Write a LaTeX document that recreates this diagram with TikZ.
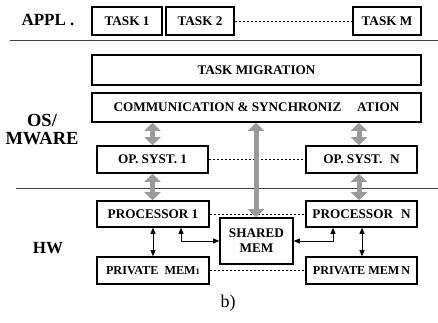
\documentclass[tikz,border=0pt]{standalone}
\usepackage{fontspec}
\setmainfont{Liberation Serif}
\usetikzlibrary{arrows.meta}
\definecolor{arrgray}{HTML}{9A9A9A}
\begin{document}
\begin{tikzpicture}[x=1pt,y=-1pt,
  box/.style={draw,line width=1.6pt,inner sep=0pt,font=\fontsize{13.2}{15}\selectfont\bfseries},
  smallbox/.style={box,font=\fontsize{12.2}{14}\selectfont\bfseries},
  lbl/.style={inner sep=0pt,font=\fontsize{17}{19}\selectfont\bfseries},
  sep/.style={line width=0.7pt,black!75},
  dots/.style={line width=0.6pt,dash pattern=on 2pt off 2pt},
  fatarrow/.style={arrgray,line width=5pt,{Triangle[width=16pt,length=8pt]}-{Triangle[width=16pt,length=8pt]}},
  thinarrow/.style={line width=0.8pt,{Triangle[width=5pt,length=6pt]}-{Triangle[width=5pt,length=6pt]}}]
\useasboundingbox (0,0) rectangle (438,323);
% application layer
\node[lbl] (appl) at (48,20) {APPL .};
\node[box,minimum width=70pt,minimum height=28pt] (t1) at (127,21) {TASK 1};
\node[box,minimum width=68pt,minimum height=28pt] (t2) at (200,21) {TASK 2};
\node[box,minimum width=68pt,minimum height=28pt] (tm) at (387,21) {TASK M};
\draw[dots] (t2.east) -- (tm.west);
\coordinate (s1a) at (10,40); \coordinate (s1b) at (438,40);
\draw[sep] (s1a) -- (s1b);
% OS / middleware
\node[lbl,font=\fontsize{18.5}{20}\selectfont\bfseries] (os) at (42,120) {OS/};
\node[lbl,font=\fontsize{18.5}{20}\selectfont\bfseries] (mw) at (42,139) {MWARE};
\node[box,minimum width=329pt,minimum height=30pt] (mig) at (256.5,70) {TASK MIGRATION};
\node[box,minimum width=329pt,minimum height=29pt] (com) at (256.5,107.5) {COMMUNICATION \& SYNCHRONIZ\hspace{1.2em}ATION};
\node[box,minimum width=111pt,minimum height=27pt] (os1) at (152.5,159.5) {OP. SYST. 1};
\node[box,minimum width=111pt,minimum height=27pt] (osn) at (361.5,159.5) {OP. SYST.\hspace{0.6em}N};
\draw[dots] (os1.east) -- (osn.west);
\coordinate (s2a) at (16,188); \coordinate (s2b) at (438,188);
\draw[sep] (s2a) -- (s2b);
% hardware
\node[lbl] (hw) at (48,248) {HW};
\node[box,minimum width=112pt,minimum height=26pt] (p1) at (153,214) {PROCESSOR 1};
\node[box,minimum width=111pt,minimum height=26pt] (pn) at (361.5,214) {PROCESSOR\hspace{0.6em}N};
\draw[dots] (p1.east) -- (pn.west);
\node[box,minimum width=73pt,minimum height=46pt,align=center] (sh) at (256.5,241) {SHARED\\MEM};
\node[smallbox,minimum width=112pt,minimum height=27pt] (m1) at (153,270.5) {PRIVATE\hspace{0.5em}MEM{\fontsize{8.5}{10}\selectfont 1}};
\node[smallbox,minimum width=111pt,minimum height=27pt] (mn) at (361.5,270.5) {PRIVATE MEM\hspace{0.15em}N};
\draw[dots] (m1.east) -- (mn.west);
% gray arrows
\draw[fatarrow] (com.south -| os1.north) -- (os1.north);
\draw[fatarrow] (os1.south) -- (os1.south |- p1.north);
\coordinate (rx) at (359,0);
\draw[fatarrow] (com.south -| rx) -- (osn.north -| rx);
\draw[fatarrow] (osn.south -| rx) -- (pn.north -| rx);
\draw[fatarrow] (sh.north -| 256,0) -- (com.south -| 256,0);
% thin arrows
\draw[thinarrow] (p1.south) -- (m1.north);
\draw[thinarrow] (pn.south -| 362,0) -- (mn.north -| 362,0);
\draw[thinarrow] (p1.south -| 181,0) |- (sh.west);
\draw[thinarrow] (pn.south -| 333,0) |- (sh.east);
% caption
\node[inner sep=0pt,font=\fontsize{18}{20}\selectfont] (cap) at (228,303) {b)};
\end{tikzpicture}
\end{document}
